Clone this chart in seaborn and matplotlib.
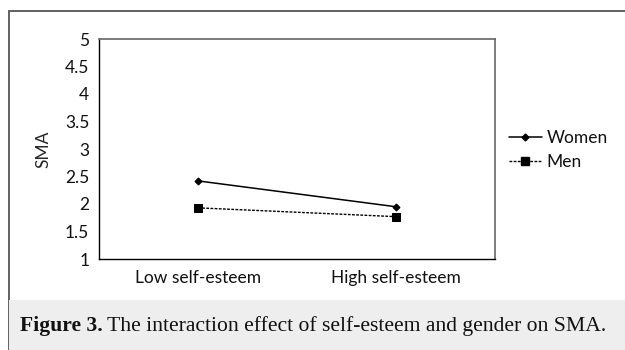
import pandas as pd
import matplotlib
matplotlib.use("Agg")
import matplotlib.pyplot as plt
import seaborn as sns
from matplotlib.patches import Rectangle
from matplotlib.lines import Line2D

# data
esteem = ["Low self-esteem", "High self-esteem"]
women = [2.42, 1.95]
men = [1.93, 1.77]
y_ticks = [1, 1.5, 2, 2.5, 3, 3.5, 4, 4.5, 5]

df = pd.DataFrame({
    "esteem": esteem * 2,
    "SMA": women + men,
    "gender": ["Women"] * 2 + ["Men"] * 2,
})

sns.set_style("white")
plt.rcParams["font.family"] = ["Lato", "DejaVu Sans"]
plt.rcParams["text.color"] = "#111111"
fs = 12.5

fig = plt.figure(figsize=(6.25, 3.5), dpi=100)
ax = fig.add_axes([99 / 625, 1 - 259 / 350, 396 / 625, 220 / 350])

# outer frame + caption box
fig.patches.append(Rectangle((9 / 625, 0), 1, 1 - 11 / 350, transform=fig.transFigure,
                             fill=False, edgecolor="#555555", linewidth=1.3, zorder=0))
fig.patches.append(Rectangle((9 / 625, 0), 1, 50 / 350, transform=fig.transFigure,
                             facecolor="#eeeeee", edgecolor="none", zorder=0))

sns.pointplot(data=df[df.gender == "Women"], x="esteem", y="SMA", ax=ax, color="black",
              markers="D", markersize=3.5, linewidth=1.1, linestyles="-", errorbar=None)
sns.pointplot(data=df[df.gender == "Men"], x="esteem", y="SMA", ax=ax, color="black",
              markers="s", markersize=6, linewidth=1.0, linestyles=(0, (2, 1)), errorbar=None)

ax.set_xlim(-0.5, 1.5)
ax.set_ylim(1, 5)
ax.set_yticks(y_ticks)
ax.set_yticklabels([f"{t:g}" for t in y_ticks])
ax.set_xticks([-0.5, 0.5, 1.5], minor=True)
ax.tick_params(axis="x", which="major", length=0, labelsize=fs, pad=8, labelcolor="#111111")
ax.tick_params(axis="x", which="minor", length=6, width=1, color="black", direction="out")
ax.tick_params(axis="y", length=4, width=1, color="black", direction="out", labelsize=fs, pad=3,
               labelcolor="#111111")
ax.set_xlabel("")
ax.set_ylabel("SMA", fontsize=fs, labelpad=10)

for side in ["left", "bottom"]:
    ax.spines[side].set_color("black")
    ax.spines[side].set_linewidth(1.0)
for side in ["top", "right"]:
    ax.spines[side].set_color("#666666")
    ax.spines[side].set_linewidth(1.2)

handles = [
    Line2D([], [], color="black", marker="D", markersize=3.5, linewidth=1.1, linestyle="-"),
    Line2D([], [], color="black", marker="s", markersize=5.5, linewidth=1.0, linestyle=(0, (2, 1))),
]
fig.legend(handles, ["Women", "Men"], loc="center left", bbox_to_anchor=(493 / 625, 1 - 150 / 350),
           frameon=False, fontsize=fs, handlelength=1.9, handletextpad=0.3, labelspacing=0.45)

fig.text(20 / 625, 1 - 326 / 350, "Figure 3.", fontfamily="Liberation Serif", fontweight="bold",
         fontsize=15.6, va="center", ha="left")
fig.text(107 / 625, 1 - 326 / 350, "The interaction effect of self-esteem and gender on SMA.",
         fontfamily="Liberation Serif", fontsize=15.6, va="center", ha="left")

fig.savefig("out.png", dpi=100)
